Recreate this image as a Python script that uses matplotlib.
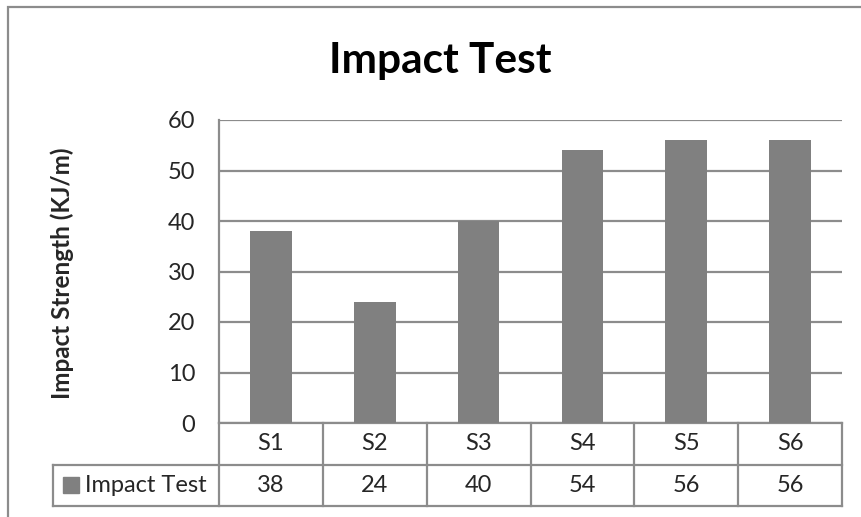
import matplotlib.pyplot as plt
from matplotlib.patches import Rectangle

samples = ["S1", "S2", "S3", "S4", "S5", "S6"]
impact_strength = [38, 24, 40, 54, 56, 56]
series_name = "Impact Test"
y_ticks = [0, 10, 20, 30, 40, 50, 60]

BAR_COLOR = "#808080"
LINE_COLOR = "#8c8c8c"
TEXT_COLOR = "#262626"
FS = 17

plt.rcParams["font.family"] = ["Lato", "DejaVu Sans"]

W, H = 861, 517
fig = plt.figure(figsize=(W / 100, H / 100), dpi=100)


def px(x0, y0, x1, y1):
    # pixel box (top-left origin) -> figure fraction rect
    return [x0 / W, 1 - y1 / H, (x1 - x0) / W, (y1 - y0) / H]


# outer chart frame (runs off the right and bottom edge)
fig.patches.append(Rectangle((8 / W, -0.1), 1.2, 1 - 7 / H + 0.1,
                             transform=fig.transFigure, fill=False,
                             edgecolor=LINE_COLOR, linewidth=1.6))

ax = fig.add_axes(px(219, 120, 842, 423))
x = list(range(len(samples)))
ax.bar(x, impact_strength, width=0.4, color=BAR_COLOR, zorder=3)
ax.set_xlim(-0.5, len(samples) - 0.5)
ax.set_ylim(0, 60)
ax.set_yticks(y_ticks)
ax.tick_params(axis="y", length=0, pad=17, labelsize=FS, labelcolor=TEXT_COLOR)
ax.set_xticks([])
ax.grid(axis="y", color=LINE_COLOR, linewidth=1.6, zorder=0)
for side in ["top", "right", "bottom"]:
    ax.spines[side].set_visible(False)
ax.spines["left"].set_color(LINE_COLOR)
ax.spines["left"].set_linewidth(1.6)

fig.text(62 / W, 1 - 273 / H, "Impact Strength (KJ/m)", fontsize=17.5,
         fontweight="bold", rotation=90, ha="center", va="center",
         color=TEXT_COLOR)
fig.text(440 / W, 1 - 73 / H, "Impact Test", fontsize=30.5, fontweight="bold",
         ha="center", va="baseline", color="black")

# data table under the axis
tr = ax.get_xaxis_transform()
row1 = -42 / 303
row2 = -83 / 303
left = -0.5
right = len(samples) - 0.5
leg_left = left - 166 / 103.8
kw = dict(transform=tr, color=LINE_COLOR, linewidth=1.6, clip_on=False)
ax.plot([left, right], [0, 0], **kw)
ax.plot([leg_left, right], [row1, row1], **kw)
ax.plot([leg_left, right], [row2, row2], **kw)
ax.plot([leg_left, leg_left], [row1, row2], **kw)
for i in range(len(samples) + 1):
    ax.plot([i - 0.5, i - 0.5], [0, row2], **kw)

for i, (s, v) in enumerate(zip(samples, impact_strength)):
    ax.text(i, row1 / 2, s, transform=tr, ha="center", va="center",
            fontsize=FS, color=TEXT_COLOR)
    ax.text(i, (row1 + row2) / 2, str(v), transform=tr, ha="center",
            va="center", fontsize=FS, color=TEXT_COLOR)

# legend key inside the row header
fig.patches.append(Rectangle((63 / W, 1 - 493 / H), 16 / W, 16 / H,
                             transform=fig.transFigure, color=BAR_COLOR))
fig.text(85 / W, 1 - 485 / H, series_name, fontsize=FS, ha="left",
         va="center", color=TEXT_COLOR)

fig.savefig("out.png", dpi=100)
